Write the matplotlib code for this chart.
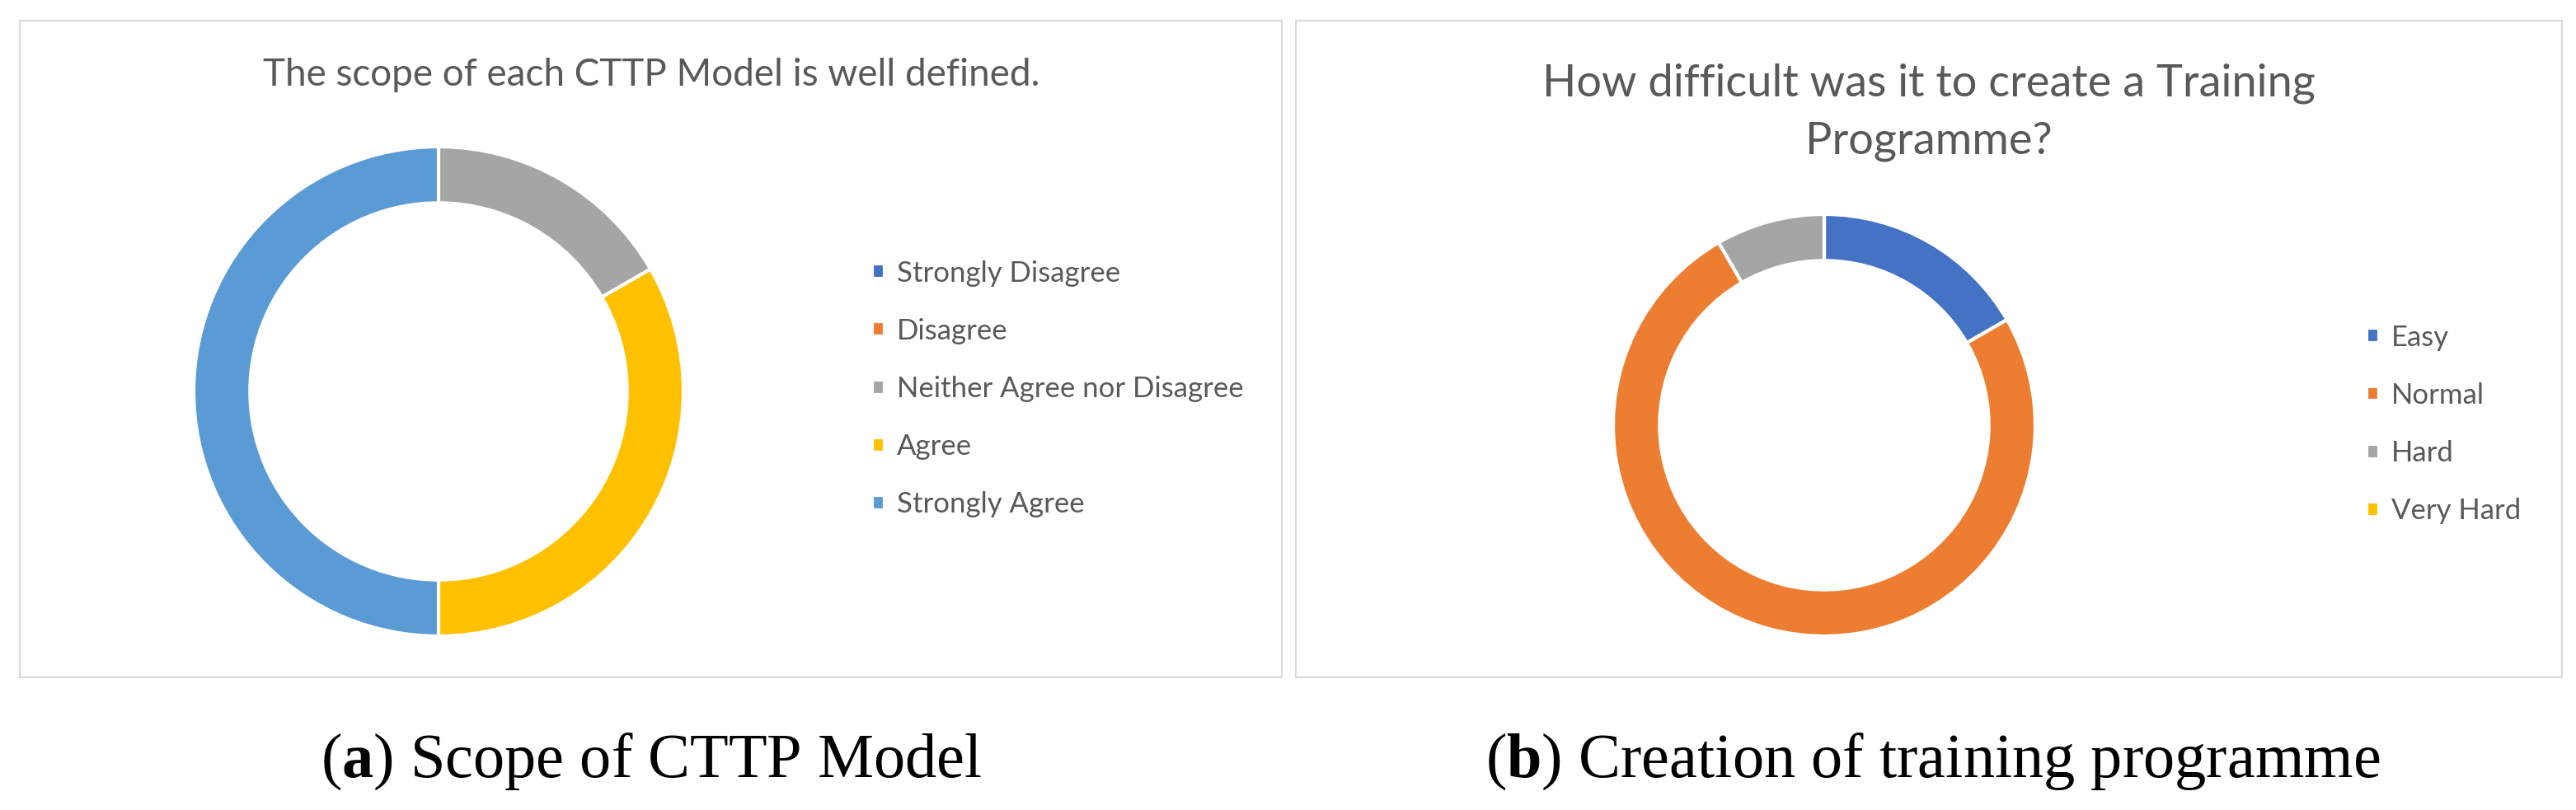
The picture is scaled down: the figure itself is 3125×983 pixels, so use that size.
import matplotlib.pyplot as plt
from matplotlib.patches import Rectangle

plt.rcParams['font.family'] = ['Lato', 'DejaVu Sans']
plt.rcParams['mathtext.fontset'] = 'custom'
plt.rcParams['mathtext.rm'] = 'Liberation Serif'
plt.rcParams['mathtext.bf'] = 'Liberation Serif:bold'

# Data
scope_labels = ['Strongly Disagree', 'Disagree', 'Neither Agree nor Disagree', 'Agree', 'Strongly Agree']
scope_values = [0, 0, 1, 2, 3]
scope_colors = ['#4472C4', '#ED7D31', '#A5A5A5', '#FFC000', '#5B9BD5']

diff_labels = ['Easy', 'Normal', 'Hard', 'Very Hard']
diff_values = [2, 9, 1, 0]
diff_colors = ['#4472C4', '#ED7D31', '#A5A5A5', '#FFC000']

W, H = 3125, 983
fig = plt.figure(figsize=(W / 100, H / 100), dpi=100)
txt = '#595959'


def fx(px):
    return px / W


def fy(py):
    return (H - py) / H


def donut(cx, cy, r, vals, cols, width):
    ax = fig.add_axes([fx(cx - r), fy(cy + r), 2 * r / W, 2 * r / H])
    wedges, _ = ax.pie(vals, colors=cols, startangle=90, counterclock=False,
                       wedgeprops=dict(width=width, edgecolor='white', linewidth=3))
    ax.set_xlim(-1, 1)
    ax.set_ylim(-1, 1)
    ax.set_aspect('equal')
    return wedges


leg_kw = dict(loc='center left', frameon=False, fontsize=25, handlelength=0.42,
              handleheight=0.42, handletextpad=0.45, labelspacing=1.1,
              borderpad=0, borderaxespad=0, labelcolor=txt)

# panel frames
for x0, x1 in [(24, 1555), (1572, 3108)]:
    fig.add_artist(Rectangle((fx(x0), fy(822)), (x1 - x0) / W, (822 - 25) / H,
                             transform=fig.transFigure, fill=False,
                             edgecolor='#D9D9D9', linewidth=1.5))

# (a)
w1 = donut(532, 475, 297, scope_values, scope_colors, 0.23)
fig.text(fx(790), fy(104), 'The scope of each CTTP Model is well defined.',
         ha='center', va='baseline', fontsize=33, color=txt)
fig.legend(w1, scope_labels, bbox_to_anchor=(fx(1058), fy(472)), **leg_kw)

# (b)
w2 = donut(2213, 516, 256, diff_values, diff_colors, 0.22)
fig.text(fx(2340), fy(186), 'How difficult was it to create a Training\nProgramme?',
         ha='center', va='baseline', fontsize=39, color=txt, linespacing=1.5)
fig.legend(w2, diff_labels, bbox_to_anchor=(fx(2871), fy(515)), **leg_kw)

# captions
fig.text(fx(790), fy(943), r'($\mathbf{a}$) Scope of CTTP Model',
         ha='center', va='baseline', fontsize=55, family='Liberation Serif')
fig.text(fx(2345), fy(943), r'($\mathbf{b}$) Creation of training programme',
         ha='center', va='baseline', fontsize=55, family='Liberation Serif')

fig.savefig('out.png', dpi=100)
